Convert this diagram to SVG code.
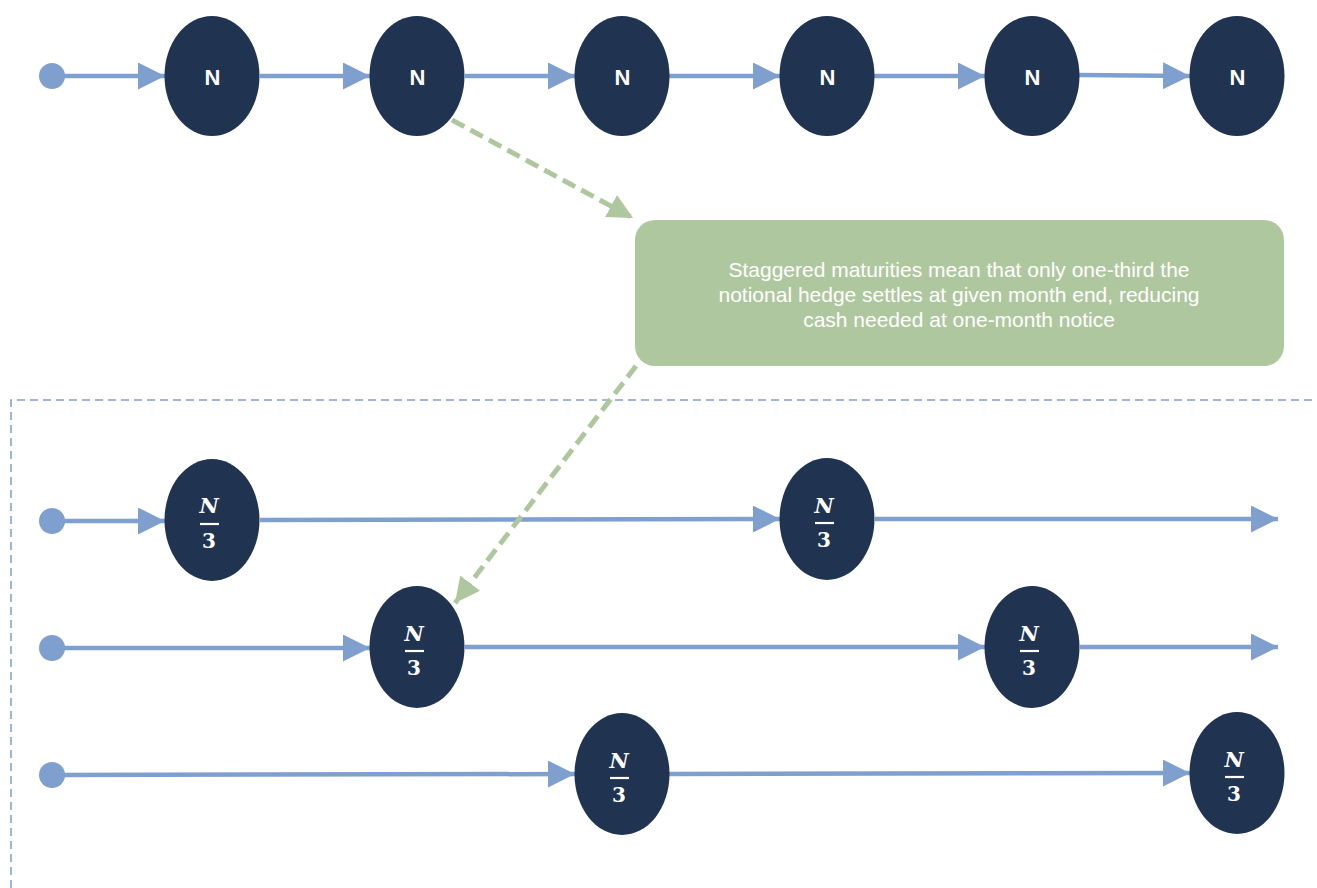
<svg xmlns="http://www.w3.org/2000/svg" width="1317" height="888" viewBox="0 0 1317 888">
<defs>
<marker id="ah" markerWidth="6" markerHeight="6" refX="6" refY="3" orient="auto" markerUnits="strokeWidth"><path d="M0,0 L6,3 L0,6 Z" fill="#7f9fcf"/></marker>
<marker id="gh" markerWidth="5" markerHeight="5" refX="5" refY="2.5" orient="auto" markerUnits="strokeWidth"><path d="M0,0 L5,2.5 L0,5 Z" fill="#afc79e"/></marker>
</defs>
<style>
.e{fill:#203451}
.c{stroke:#7f9fcf;stroke-width:4.5;fill:none;marker-end:url(#ah)}
.d{fill:#7f9fcf}
.g{stroke:#afc79e;stroke-width:5;fill:none;stroke-dasharray:14 7;marker-end:url(#gh)}
.n{font-family:"Liberation Sans",Arial,sans-serif;font-weight:bold;font-size:22px;fill:#fff;text-anchor:middle}
.fn{font-family:"DejaVu Serif","Liberation Serif",serif;font-weight:bold;font-style:italic;font-size:21px;fill:#fff;text-anchor:middle}
.f3{font-family:"DejaVu Serif","Liberation Serif",serif;font-weight:bold;font-size:20px;fill:#fff;text-anchor:middle}
.bar{stroke:#fff;stroke-width:2.2}
.t{font-family:"Liberation Sans",Arial,sans-serif;font-size:21px;fill:#fff;text-anchor:middle}
</style>
<path d="M11,888 L11,400 L1317,400" fill="none" stroke="#7f9fcf" stroke-width="1.5" stroke-dasharray="8 5"/>
<g id="connectors">
<circle class="d" cx="52" cy="76" r="13"/>
<line class="c" x1="52" y1="76" x2="165" y2="76"/>
<line class="c" x1="260" y1="76" x2="370" y2="76"/>
<line class="c" x1="465" y1="76" x2="575" y2="76"/>
<line class="c" x1="669" y1="76" x2="780" y2="76"/>
<line class="c" x1="874" y1="76" x2="985" y2="76"/>
<line class="c" x1="1079" y1="75" x2="1190" y2="76"/>
<circle class="d" cx="52" cy="521" r="13"/>
<line class="c" x1="52" y1="521" x2="165" y2="521"/>
<line class="c" x1="260" y1="520" x2="780" y2="519"/>
<line class="c" x1="875" y1="519" x2="1278" y2="519"/>
<circle class="d" cx="52" cy="648" r="13"/>
<line class="c" x1="52" y1="648" x2="370" y2="648"/>
<line class="c" x1="465" y1="647" x2="985" y2="647"/>
<line class="c" x1="1080" y1="647" x2="1278" y2="647"/>
<circle class="d" cx="52" cy="775" r="13"/>
<line class="c" x1="52" y1="775" x2="575" y2="774"/>
<line class="c" x1="669" y1="774" x2="1190" y2="773"/>
<line class="g" x1="452" y1="120" x2="633" y2="218"/>
<line class="g" x1="636" y1="366" x2="455" y2="603"/>
</g>
<g id="t1"><ellipse class="e" cx="212" cy="76" rx="47.5" ry="60"/><text class="n" x="212.5" y="85">N</text></g>
<g id="t2"><ellipse class="e" cx="417" cy="76" rx="47.5" ry="60"/><text class="n" x="417.5" y="85">N</text></g>
<g id="t3"><ellipse class="e" cx="622" cy="76" rx="47.5" ry="60"/><text class="n" x="622.5" y="85">N</text></g>
<g id="t4"><ellipse class="e" cx="827" cy="76" rx="47.5" ry="60"/><text class="n" x="827.5" y="85">N</text></g>
<g id="t5"><ellipse class="e" cx="1032" cy="76" rx="47.5" ry="60"/><text class="n" x="1032.5" y="85">N</text></g>
<g id="t6"><ellipse class="e" cx="1237" cy="76" rx="47.5" ry="60"/><text class="n" x="1237.5" y="85">N</text></g>
<g id="note">
<rect x="635" y="220" width="649" height="146" rx="20" fill="#afc79e"/>
<text class="t" x="959" y="277">Staggered maturities mean that only one-third the</text>
<text class="t" x="959" y="302">notional hedge settles at given month end, reducing</text>
<text class="t" x="959" y="327">cash needed at one-month notice</text>
</g>
<g id="b1"><ellipse class="e" cx="212" cy="520" rx="47.5" ry="61"/><text class="fn" x="209" y="513">N</text><line class="bar" x1="200" y1="524" x2="219" y2="524"/><text class="f3" x="209" y="548">3</text></g>
<g id="b2"><ellipse class="e" cx="827" cy="519" rx="47.5" ry="61"/><text class="fn" x="824" y="513">N</text><line class="bar" x1="815" y1="523" x2="834" y2="523"/><text class="f3" x="824" y="547">3</text></g>
<g id="b3"><ellipse class="e" cx="417" cy="647" rx="47.5" ry="61"/><text class="fn" x="414" y="641">N</text><line class="bar" x1="405" y1="651" x2="424" y2="651"/><text class="f3" x="414" y="675">3</text></g>
<g id="b4"><ellipse class="e" cx="1032" cy="647" rx="47.5" ry="61"/><text class="fn" x="1029" y="641">N</text><line class="bar" x1="1020" y1="651" x2="1039" y2="651"/><text class="f3" x="1029" y="675">3</text></g>
<g id="b5"><ellipse class="e" cx="622" cy="774" rx="47.5" ry="61"/><text class="fn" x="619" y="768">N</text><line class="bar" x1="610" y1="778" x2="629" y2="778"/><text class="f3" x="619" y="802">3</text></g>
<g id="b6"><ellipse class="e" cx="1237" cy="773" rx="47.5" ry="61"/><text class="fn" x="1234" y="767">N</text><line class="bar" x1="1225" y1="777" x2="1244" y2="777"/><text class="f3" x="1234" y="801">3</text></g>
</svg>
